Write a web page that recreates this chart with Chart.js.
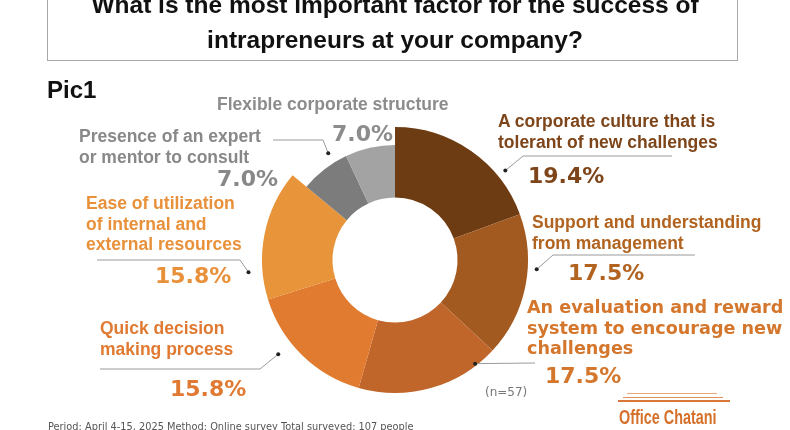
<!DOCTYPE html>
<html>
<head>
<meta charset="utf-8">
<script src="https://cdn.jsdelivr.net/npm/chart.js@4/dist/chart.umd.min.js"></script>
<style>
  html, body { margin: 0; padding: 0; background: #fff; }
  #wrap { position: relative; width: 790px; height: 430px; overflow: hidden; }
  #chart { position: absolute; left: 0; top: 0; }
  .t { position: absolute; white-space: nowrap; }
  .box { position: absolute; left: 47px; top: -40px; width: 691px; height: 101px; border: 1.5px solid #a8a8a8; box-sizing: border-box; }
  .title { position: absolute; left: 0; width: 790px; text-align: center; font: bold 24.5px "Liberation Sans", Arial, sans-serif; color: #111; }
  .lab { font: bold 17.5px "Liberation Sans", Arial, sans-serif; line-height: 20.5px; }
  .labv { font: bold 17.6px "DejaVu Sans", Verdana, sans-serif; line-height: 20.5px; }
  .pct { font: bold 22px "DejaVu Sans", Verdana, sans-serif; }
</style>
</head>
<body>
<div id="wrap">
  <canvas id="chart" width="790" height="430"></canvas>
</div>
<script>
const titleLines = ["What is the most important factor for the success of", "intrapreneurs at your company?"];
const categories = [
  "A corporate culture that is tolerant of new challenges",
  "Support and understanding from management",
  "An evaluation and reward system to encourage new challenges",
  "Quick decision making process",
  "Ease of utilization of internal and external resources",
  "Presence of an expert or mentor to consult",
  "Flexible corporate structure"
];
const values = [19.4, 17.5, 17.5, 15.8, 15.8, 7.0, 7.0];
const sliceColors = ["#6e3c12", "#a35a21", "#c1662b", "#e07b30", "#e8943a", "#7c7c7c", "#a3a3a3"];
const labelColors = ["#7d4519", "#b1631f", "#d4762c", "#e07a32", "#e9913a", "#888888", "#8c8c8c"];
const sampleNote = "(n=57)";
const footnote = "Period: April 4-15, 2025 Method: Online survey Total surveyed: 107 people";

// where each label sits and how its leader line runs
const labelLayout = [
  { lines: ["A corporate culture that is", "tolerant of new challenges"], cls: "lab", x: 498, y: 111, px: 528, py: 163,
    lead: { frac: 0.73, d: 9, pts: [[523, 156], [672, 156]] } },
  { lines: ["Support and understanding", "from management"], cls: "lab", x: 532, y: 212, px: 568, py: 260,
    lead: { frac: 0.38, d: 9, pts: [[553, 255], [695, 255]] } },
  { lines: ["An evaluation and reward", "system to encourage new", "challenges"], cls: "labv", x: 527, y: 297, px: 545, py: 363,
    lead: { frac: 0.15, d: -2, pts: [[535, 363]] } },
  { lines: ["Quick decision", "making process"], cls: "lab", x: 100, y: 318, px: 170, py: 376,
    lead: { frac: 0.62, d: 17, pts: [[260, 369], [100, 369]] } },
  { lines: ["Ease of utilization", "of internal and", "external resources"], cls: "lab", x: 86, y: 193, px: 155, py: 263,
    lead: { frac: 0.22, d: 14, pts: [[240, 260], [97, 260]] } },
  { lines: ["Presence of an expert", "or mentor to consult"], cls: "lab", x: 79, y: 126, px: 217, py: 166,
    lead: { frac: 0.73, d: 11, pts: [[323, 140], [273, 140]] } },
  { lines: ["Flexible corporate structure"], cls: "lab", x: 217, y: 94, px: 332, py: 121, lead: null }
];

const wrap = document.getElementById("wrap");
function addText(txt, cls, x, y, style) {
  const d = document.createElement("div");
  d.className = "t " + cls;
  d.style.left = x + "px";
  d.style.top = y + "px";
  if (style) Object.assign(d.style, style);
  d.innerHTML = txt;
  wrap.appendChild(d);
  return d;
}

const box = document.createElement("div");
box.className = "box";
wrap.appendChild(box);
titleLines.forEach((l, i) => {
  const d = document.createElement("div");
  d.className = "title";
  d.style.top = (-9 + i * 35) + "px";
  d.textContent = l;
  wrap.appendChild(d);
});
addText("Pic1", "", 47, 76, { font: "bold 24px 'Liberation Sans', Arial, sans-serif", color: "#111" });

labelLayout.forEach((lab, i) => {
  addText(lab.lines.join("<br>"), lab.cls, lab.x, lab.y, { color: labelColors[i] });
  addText(values[i].toFixed(1) + "%", "pct", lab.px, lab.py, { color: labelColors[i] });
});

addText(sampleNote, "", 485, 385, { font: "12px 'DejaVu Sans', Verdana, sans-serif", color: "#777" });
addText(footnote, "", 48, 421, { font: "9.8px 'DejaVu Sans', Verdana, sans-serif", color: "#555" });
addText("Office Chatani", "", 619, 406, {
  font: "bold 20px 'Liberation Sans', Arial, sans-serif", color: "#d4702a",
  transform: "scaleX(0.72)", transformOrigin: "0 0"
});

const smallOuter = 115;

const leaderPlugin = {
  id: "leaders",
  beforeDatasetsDraw(c) {
    const meta = c.getDatasetMeta(0);
    meta.data.forEach((arc, i) => {
      if (values[i] < 10) arc.outerRadius = smallOuter;
    });
  },
  afterDraw(c) {
    const ctx = c.ctx;
    const meta = c.getDatasetMeta(0);
    ctx.save();
    labelLayout.forEach((lab, i) => {
      if (!lab.lead) return;
      const arc = meta.data[i];
      const a = arc.startAngle + lab.lead.frac * (arc.endAngle - arc.startAngle);
      const r = arc.outerRadius + lab.lead.d;
      const dx = arc.x + r * Math.cos(a), dy = arc.y + r * Math.sin(a);
      ctx.strokeStyle = "#9a9a9a";
      ctx.lineWidth = 1;
      ctx.beginPath();
      ctx.moveTo(dx, dy);
      lab.lead.pts.forEach(p => ctx.lineTo(p[0], p[1]));
      ctx.stroke();
      ctx.fillStyle = "#222";
      ctx.beginPath();
      ctx.arc(dx, dy, 2, 0, Math.PI * 2);
      ctx.fill();
    });
    // decorative rules above the logo
    ctx.strokeStyle = "#e9a877";
    ctx.lineWidth = 1;
    ctx.beginPath(); ctx.moveTo(627, 393.5); ctx.lineTo(717, 393.5); ctx.stroke();
    ctx.strokeStyle = "#e39058";
    ctx.beginPath(); ctx.moveTo(623, 397.5); ctx.lineTo(723, 397.5); ctx.stroke();
    ctx.strokeStyle = "#d9773a";
    ctx.lineWidth = 2;
    ctx.beginPath(); ctx.moveTo(618, 401); ctx.lineTo(730, 401); ctx.stroke();
    ctx.restore();
  }
};

new Chart(document.getElementById("chart"), {
  type: "doughnut",
  data: {
    labels: categories,
    datasets: [{
      data: values,
      backgroundColor: sliceColors,
      borderWidth: 0
    }]
  },
  options: {
    responsive: false,
    animation: false,
    cutout: "47%",
    layout: { padding: { left: 262, right: 262, top: 127, bottom: 37 } },
    plugins: { legend: { display: false }, tooltip: { enabled: false } }
  },
  plugins: [leaderPlugin]
});
</script>
</body>
</html>
